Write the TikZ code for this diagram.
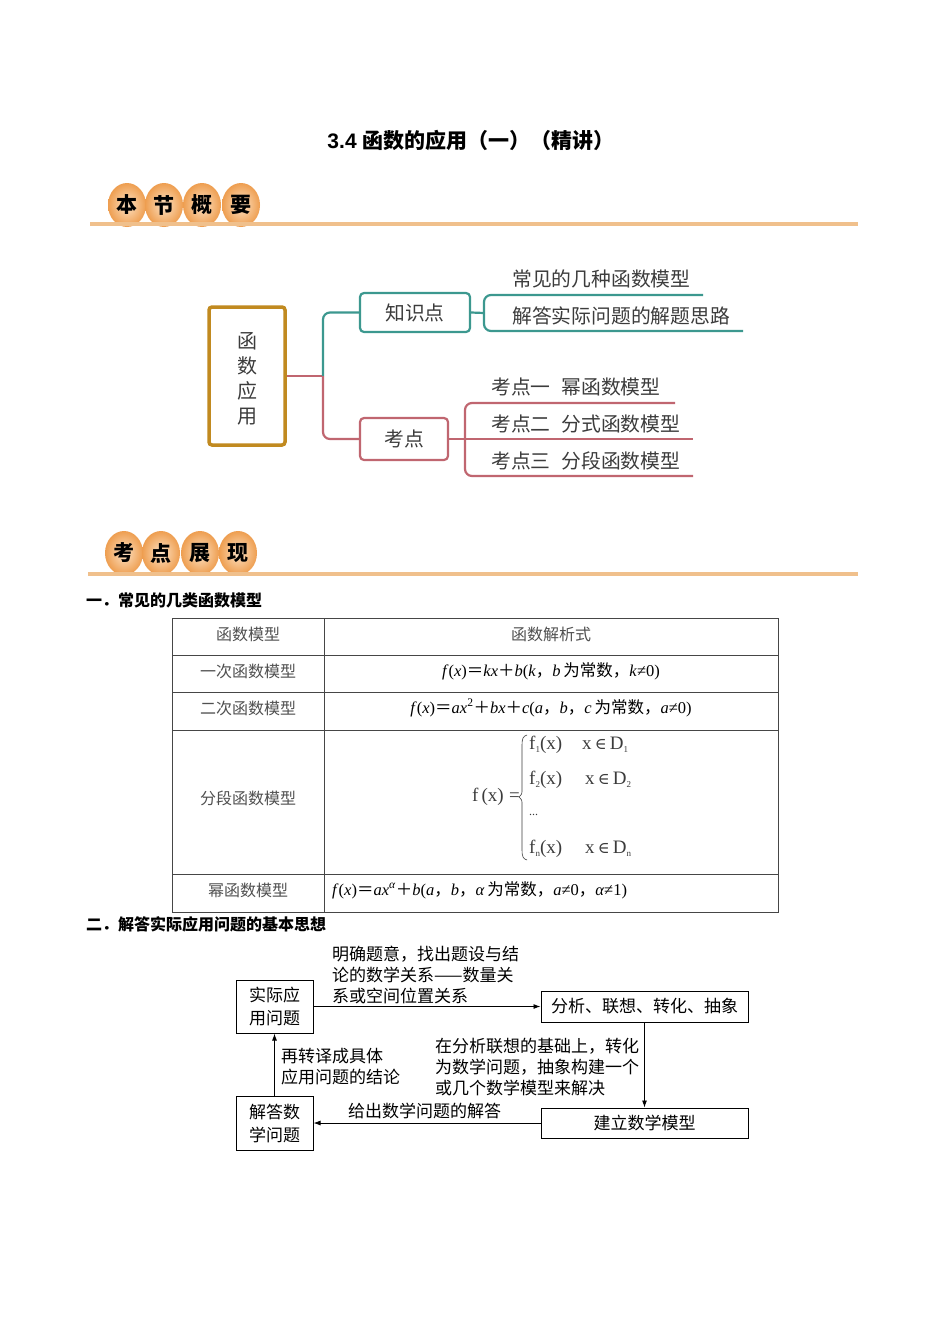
\documentclass[tikz,border=0pt]{standalone}
\usepackage{fontspec}
\setmainfont{Liberation Serif}
\newfontfamily\cjk{Noto Sans CJK SC}
\newfontfamily\lsans{Liberation Sans}
\newfontfamily\dvs{DejaVu Serif}
\usetikzlibrary{arrows.meta}
\newcommand\zh[1]{{\cjk #1}}
\newcommand\sbs[1]{\raisebox{-2.5pt}{\fontsize{9}{10}\selectfont #1}}
\definecolor{mmteal}{RGB}{60,152,143}
\definecolor{mmpink}{RGB}{192,102,112}
\definecolor{mmgold}{RGB}{193,138,32}
\definecolor{eggdark}{RGB}{238,158,80}
\definecolor{egglight}{RGB}{253,226,196}
\definecolor{barc}{RGB}{240,192,140}
\definecolor{tline}{RGB}{70,70,70}
\definecolor{txtgray}{RGB}{60,60,60}
\begin{document}
\begin{tikzpicture}[x=1pt,y=-1pt,
  eggtext/.style={font=\cjk\bfseries\fontsize{21}{24}\selectfont, inner sep=0},
  bar/.style={barc, line width=3.5pt},
  mm/.style={font=\cjk\fontsize{19.8}{25}\selectfont, text=txtgray, inner sep=0},
  mmline/.style={line width=2.2pt},
  sect/.style={font=\cjk\bfseries\fontsize{16}{19}\selectfont, anchor=west, inner sep=0},
  cellzh/.style={font=\cjk\fontsize{16}{19}\selectfont, text=txtgray!90, inner sep=0},
  cellf/.style={font=\fontsize{16.5}{19}\selectfont, inner sep=0},
  pw/.style={font=\fontsize{19}{22}\selectfont, text=txtgray, inner sep=0},
  fbox/.style={draw, line width=1pt, inner sep=0, align=center, font=\cjk\fontsize{17}{23}\selectfont},
  flab/.style={font=\cjk\fontsize{17}{21}\selectfont, align=left, inner sep=0},
  arr/.style={line width=0.9pt, -{Latex[length=7pt,width=5pt]}}
]
\useasboundingbox (0,0) rectangle (950,1344);
\fill[white] (0,0) rectangle (950,1344);

% title
\node[font=\fontsize{21}{25}\selectfont\bfseries, inner sep=0] (title) at (471,140) {{\lsans 3.4 }\zh{函数的应用（一）（精讲）}};

% header 1
\foreach \x/\c in {127/本,164/节,202/概,241/要}{
  \shade[inner color=egglight, outer color=eggdark] (\x,205) ellipse (19pt and 22pt);
  \node[eggtext] (ea\x) at (\x,205) {\c};
}
\draw[bar] (90,224) -- (858,224);

% mind map
\node[draw=mmgold, line width=3.5pt, rounded corners=3pt, minimum width=76pt, minimum height=138pt, inner sep=0, align=center, font=\cjk\fontsize{20}{25}\selectfont, text=txtgray] (main) at (247,376) {};
\node[inner sep=0, align=center, font=\cjk\fontsize{20}{25}\selectfont, text=txtgray] (maintext) at (247,379) {函\\数\\应\\用};
\node[draw=mmteal, mmline, rounded corners=4pt, minimum width=110pt, minimum height=39pt, mm] (kzd) at (415,312.5) {知识点};
\node[draw=mmpink, mmline, rounded corners=4pt, minimum width=88pt, minimum height=42pt, mm] (kd) at (404,439) {考点};
\coordinate (j0) at (323,376);
\draw[mmpink, mmline] (main.east) -- (j0);
\draw[mmteal, mmline, rounded corners=7pt] (j0) |- (kzd.west);
\draw[mmpink, mmline, rounded corners=7pt] (j0) |- (kd.west);

\coordinate (j1) at (484,313);
\coordinate (a1) at (703,295);
\coordinate (a2) at (743,331);
\draw[mmteal, mmline] (kzd.east) -- (j1);
\draw[mmteal, mmline, rounded corners=7pt] (a1) -| (j1) |- (a2);
\node[mm, anchor=west] (t1) at (512,279) {常见的几种函数模型};
\node[mm, anchor=west] (t2) at (512,316) {解答实际问题的解题思路};

\coordinate (j2) at (465,439);
\coordinate (b1) at (675,403);
\coordinate (b2) at (693,439);
\coordinate (b3) at (693,476);
\draw[mmpink, mmline] (kd.east) -- (j2);
\draw[mmpink, mmline, rounded corners=7pt] (b1) -| (j2) |- (b3);
\draw[mmpink, mmline] (j2) -- (b2);
\node[mm, anchor=west] (k1) at (491,387) {考点一\hspace{11pt}幂函数模型};
\node[mm, anchor=west] (k2) at (491,424) {考点二\hspace{11pt}分式函数模型};
\node[mm, anchor=west] (k3) at (491,461) {考点三\hspace{11pt}分段函数模型};

% header 2
\foreach \x/\c in {124/考,161/点,200/展,238/现}{
  \shade[inner color=egglight, outer color=eggdark] (\x,553) ellipse (19pt and 22pt);
  \node[eggtext] (eb\x) at (\x,553) {\c};
}
\draw[bar] (88,574) -- (858,574);

% section 1
\node[sect] (s1) at (86,600) {一．常见的几类函数模型};

% table
\draw[tline, line width=0.9pt] (172,618) rectangle (778,912);
\foreach \yy in {655,692,730,874} \draw[tline, line width=0.9pt] (172,\yy) -- (778,\yy);
\draw[tline, line width=0.9pt] (324,618) -- (324,912);

\node[cellzh] (h1) at (248,634) {函数模型};
\node[cellzh] (h2) at (551,634) {函数解析式};
\node[cellzh] (r1a) at (248,671) {一次函数模型};
\node[cellzh] (r2a) at (248,708) {二次函数模型};
\node[cellzh] (r3a) at (248,798) {分段函数模型};
\node[cellzh] (r4a) at (248,890) {幂函数模型};

\node[cellf] (r1b) at (551,671) {\textit{f}(\textit{x})\zh{＝}\textit{kx}\zh{＋}\textit{b}(\textit{k}\zh{，}\textit{b}\,\zh{为常数，}\textit{k}≠0)};
\node[cellf] (r2b) at (551,708) {\textit{f}(\textit{x})\zh{＝}\textit{ax}\textsuperscript{2}\zh{＋}\textit{bx}\zh{＋}\textit{c}(\textit{a}\zh{，}\textit{b}\zh{，}\textit{c}\,\zh{为常数，}\textit{a}≠0)};
\node[cellf, anchor=west] (r4b) at (332,890) {\textit{f}(\textit{x})\zh{＝}\textit{ax}\textsuperscript{\textit{α}}\zh{＋}\textit{b}(\textit{a}\zh{，}\textit{b}\zh{，}\textit{α}\,\zh{为常数，}\textit{a}≠0\zh{，}\textit{α}≠1)};

% piecewise
\node[pw, anchor=east] (fx) at (520,797) {f\,(x)\;=};
\draw[txtgray, line width=0.6pt] (527,735) .. controls (523,736) and (522,739) .. (522,745) -- (522,789) .. controls (522,794) .. (519,797) .. controls (522,800) .. (522,805) -- (522,850) .. controls (522,856) and (523,859) .. (527,860);
\node[pw, anchor=west] (p1) at (529,745) {f\sbs{1}(x)};
\node[pw, anchor=west] (q1) at (582,745) {x\,{\dvs\fontsize{16}{18}\selectfont ∈}\,D\sbs{1}};
\node[pw, anchor=west] (p2) at (529,780) {f\sbs{2}(x)};
\node[pw, anchor=west] (q2) at (585,780) {x\,{\dvs\fontsize{16}{18}\selectfont ∈}\,D\sbs{2}};
\node[pw, anchor=west, font=\fontsize{12}{14}\selectfont] (p3) at (529,815) {...};
\node[pw, anchor=west] (p4) at (529,849) {f\sbs{n}(x)};
\node[pw, anchor=west] (q4) at (585,849) {x\,{\dvs\fontsize{16}{18}\selectfont ∈}\,D\sbs{n}};

% section 2
\node[sect] (s2) at (86,924) {二．解答实际应用问题的基本思想};

% flowchart
\node[fbox, minimum width=77pt, minimum height=53pt] (A) at (274.5,1006.5) {实际应\\用问题};
\node[fbox, minimum width=207pt, minimum height=31pt] (B) at (644.5,1006.5) {分析、联想、转化、抽象};
\node[fbox, minimum width=207pt, minimum height=30pt] (C) at (644.5,1123) {建立数学模型};
\node[fbox, minimum width=77pt, minimum height=54pt] (D) at (274.5,1123) {解答数\\学问题};
\draw[arr] (A.east) -- (B.west);
\draw[arr] (B.south) -- (C.north);
\draw[arr] (C.west) -- (D.east);
\draw[arr] (D.north) -- (A.south);
\node[flab, anchor=west] (L1) at (332,975) {明确题意，找出题设与结\\论的数学关系——数量关\\系或空间位置关系};
\node[flab, anchor=west] (L2) at (435,1067) {在分析联想的基础上，转化\\为数学问题，抽象构建一个\\或几个数学模型来解决};
\node[flab, anchor=west] (L3) at (348,1111) {给出数学问题的解答};
\node[flab, anchor=west] (L4) at (281,1066.5) {再转译成具体\\应用问题的结论};
\end{tikzpicture}
\end{document}
